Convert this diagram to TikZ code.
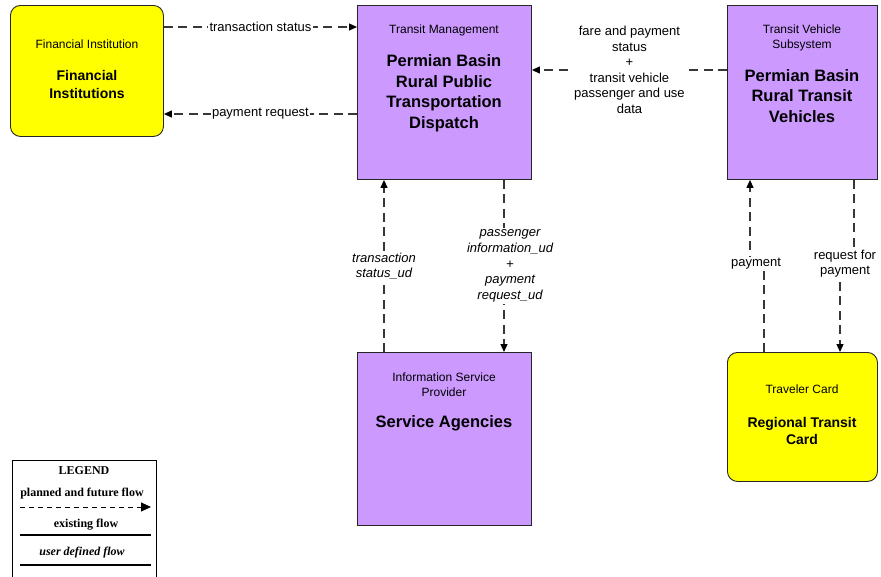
\documentclass[tikz,border=0pt]{standalone}
\usepackage{fontspec}
\setmainfont{Liberation Sans}
\newfontfamily\legendfont{Liberation Serif}
\usetikzlibrary{arrows.meta}
\definecolor{fiyellow}{RGB}{255,255,0}
\definecolor{subpurple}{RGB}{204,153,255}
\definecolor{flowgray}{RGB}{55,55,55}
\tikzset{
  ent/.style={draw=black!85, line width=0.9pt, fill=subpurple, anchor=north west, inner sep=0pt},
  term/.style={draw=black!85, line width=0.9pt, fill=fiyellow, rounded corners=10pt, anchor=north west, inner sep=0pt},
  small/.style={font=\fontsize{12}{15}\selectfont, align=center, inner sep=0pt},
  bigp/.style={font=\fontsize{16.5}{20.5}\selectfont\bfseries, align=center, inner sep=0pt},
  bigy/.style={font=\fontsize{14}{17.5}\selectfont\bfseries, align=center, inner sep=0pt},
  flow/.style={draw=flowgray, line width=1.2pt, dash pattern=on 9pt off 5.5pt},
  arr/.style={flow, -{Triangle[length=8pt,width=7pt,color=black]}},
  flab/.style={fill=white, font=\fontsize{13}{15.5}\selectfont, align=center, inner sep=1.5pt},
  legtext/.style={font=\legendfont\fontsize{12}{13}\selectfont\bfseries, inner sep=0pt},
}
\begin{document}
\begin{tikzpicture}[x=1pt,y=-1pt]
\clip (0,0) rectangle (881,576);
\fill[white] (0,0) rectangle (881,576);

% boxes
\node[term, minimum width=153pt, minimum height=131pt] (fi) at (10,5) {};
\node[ent, minimum width=174pt, minimum height=174pt] (tm) at (357,5) {};
\node[ent, minimum width=150pt, minimum height=174pt] (tv) at (727,5) {};
\node[ent, minimum width=174pt, minimum height=173pt] (sa) at (357,352) {};
\node[term, minimum width=150pt, minimum height=129pt] (tc) at (727,352) {};

% box texts
\node[small] (fis) at (87,44) {Financial Institution};
\node[bigy] (fib) at (87,84.5) {Financial\\Institutions};

\node[small] (tms) at (444,30) {Transit Management};
\node[bigp] (tmb) at (444,93) {Permian Basin\\Rural Public\\Transportation\\Dispatch};

\node[small] (tvs) at (802,37.5) {Transit Vehicle\\Subsystem};
\node[bigp] (tvb) at (802,96) {Permian Basin\\Rural Transit\\Vehicles};

\node[small] (sas) at (444,384.5) {Information Service\\Provider};
\node[bigp] (sab) at (444,423) {Service Agencies};

\node[small] (tcs) at (802,389) {Traveler Card};
\node[bigy] (tcb) at (802,431) {Regional Transit\\Card};

% flows
\draw[arr] (fi.east |- 0,27) -- node[flab] (l1) {transaction status} (tm.west |- 0,27);
\draw[arr] (tm.west |- 0,114) -- node[flab] (l2) {payment request} (fi.east |- 0,114);
\draw[arr] (tv.west |- 0,70) -- node[flab] (l3) {fare and payment\\status\\+\\transit vehicle\\passenger and use\\data} (tm.east |- 0,70);
\draw[arr] (sa.north -| 384,0) -- node[flab, font=\fontsize{13}{15}\selectfont\itshape] (l4) {transaction\\status\_ud} (tm.south -| 384,0);
\draw[arr] (tm.south -| 504,0) -- node[flab, xshift=6pt, font=\fontsize{13}{15.75}\selectfont\itshape] (l5) {passenger\\information\_ud\\+\\payment\\request\_ud} (sa.north -| 504,0);

\draw[arr] (tc.north -| 764,0) -- (764,264) -- (750,264) -- (tv.south -| 750,0);
\node[flab] (l6) at (756,264) {payment};
\draw[arr] (tv.south -| 854,0) -- (854,264) -- (840,264) -- (tc.north -| 840,0);
\node[flab, font=\fontsize{13}{15}\selectfont] (l7) at (845,264) {request for\\payment};

% legend
\node[draw=black, line width=0.9pt, anchor=north west, minimum width=144pt, minimum height=125pt, inner sep=0pt] (leg) at (12,460) {};
\node[legtext] (legt) at (84,471) {LEGEND};
\node[legtext] (leg1) at (82,494) {planned and future flow};
\coordinate (a1) at (20,507);
\coordinate (a2) at (151,507);
\draw[line width=1pt, dash pattern=on 5pt off 4pt, -{Triangle[length=10pt,width=9pt]}] (a1) -- (a2);
\node[legtext] (leg2) at (86,525) {existing flow};
\coordinate (b1) at (20,535);
\coordinate (b2) at (151,535);
\draw[line width=1.2pt] (b1) -- (b2);
\node[legtext, font=\legendfont\fontsize{12}{13}\selectfont\bfseries\itshape] (leg3) at (82,553) {user defined flow};
\coordinate (c1) at (20,565);
\coordinate (c2) at (151,565);
\draw[line width=1.2pt] (c1) -- (c2);
\end{tikzpicture}
\end{document}
